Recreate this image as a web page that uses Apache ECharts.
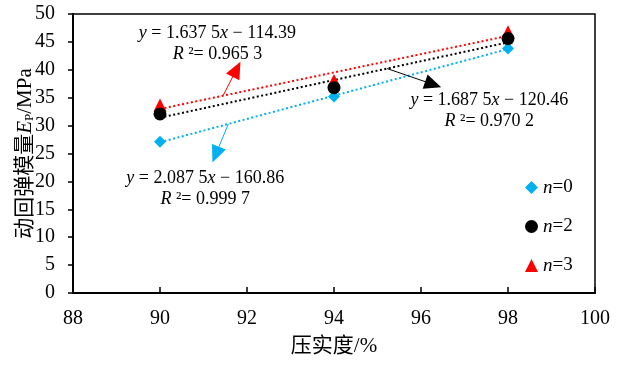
<!DOCTYPE html>
<html>
<head>
<meta charset="utf-8">
<script src="https://cdn.jsdelivr.net/npm/echarts@6/dist/echarts.min.js"></script>
<style>
  html, body { margin: 0; padding: 0; background: #fff; }
  #chart { width: 620px; height: 365px; }
</style>
</head>
<body>
<div id="chart"></div>
<script>
// Compaction degree (%) and resilient modulus (MPa) for each cycle count n
const compaction = [90, 94, 98];
const modulusN0 = [27.1, 35.2, 43.8];
const modulusN2 = [32.1, 36.8, 45.6];
const modulusN3 = [33.7, 38.1, 46.8];
const seriesNames = ['n=0', 'n=2', 'n=3'];

// Linear fits y = a·x + b as printed on the chart
const fitSlopes = [2.0875, 1.6875, 1.6375];
const fitIntercepts = [-160.86, -120.46, -114.39];
const fitSlopeText = ['2.087 5', '1.687 5', '1.637 5'];
const fitInterceptText = ['160.86', '120.46', '114.39'];
const fitR2Text = ['0.999 7', '0.970 2', '0.965 3'];

// Axis ranges
const xRange = [88, 100, 2];
const yRange = [0, 50, 5];

const SERIF = "'Liberation Serif', 'Times New Roman', 'Noto Sans CJK SC', serif";
const CJK = "'Liberation Serif', 'Noto Sans CJK SC', serif";
const colors = ['#00B0F0', '#000000', '#FF0000'];
const symbols = ['diamond', 'circle', 'triangle'];
const symbolSizes = [12, 13, 13];
const values = [modulusN0, modulusN2, modulusN3];

// Where each equation label and its leader arrow sit (data units)
const labelAt = [[91.04, 18.6], [97.57, 32.6], [91.32, 44.6]];
const arrowFromX = [91.57, 95.22, 91.45];
const arrowTo = [[91.28, 24.8], [96.28, 37.38], [91.76, 40.1]];

const fit = (i, x) => fitSlopes[i] * x + fitIntercepts[i];

const series = [];

// Dotted trend lines, with equation label and arrow
for (let i = 0; i < 3; i++) {
  const x0 = compaction[0], x1 = compaction[compaction.length - 1];
  series.push({
    name: 'fit' + i,
    type: 'line',
    data: [[x0, fit(i, x0)], [x1, fit(i, x1)]],
    showSymbol: false,
    symbol: 'none',
    silent: true,
    z: 1,
    lineStyle: { color: colors[i], width: 2, type: [2, 2.5] },
    markLine: {
      silent: true,
      symbol: ['none', 'triangle'],
      symbolSize: [15, 17],
      label: { show: false },
      lineStyle: { color: colors[i], width: 1, type: 'solid' },
      data: [[
        { coord: [arrowFromX[i], fit(i, arrowFromX[i])] },
        { coord: arrowTo[i] }
      ]]
    },
    markPoint: {
      silent: true,
      symbol: 'circle',
      symbolSize: 1,
      itemStyle: { color: 'rgba(0,0,0,0)' },
      label: {
        show: true,
        position: 'inside',
        color: '#000',
        fontFamily: SERIF,
        fontSize: 18,
        lineHeight: 21,
        align: 'center',
        formatter: '{i|y} = ' + fitSlopeText[i] + '{i|x} \u2212 ' + fitInterceptText[i] +
                   '\n{i|R} \u00b2= ' + fitR2Text[i],
        rich: {
          i: { fontStyle: 'italic', fontFamily: SERIF, fontSize: 18, lineHeight: 21, color: '#000' }
        }
      },
      data: [{ coord: labelAt[i] }]
    }
  });
}

// Measured points
for (let i = 0; i < 3; i++) {
  series.push({
    name: seriesNames[i],
    type: 'scatter',
    data: compaction.map((x, k) => [x, values[i][k]]),
    symbol: symbols[i],
    symbolSize: symbolSizes[i],
    itemStyle: { color: colors[i], opacity: 1 },
    z: i === 1 ? 5 : 4
  });
}

const chart = echarts.init(document.getElementById('chart'), null, { renderer: 'canvas' });
chart.setOption({
  animation: false,
  backgroundColor: '#fff',
  textStyle: { fontFamily: SERIF },
  grid: {
    left: 73, right: 25, top: 14, bottom: 72,
    outerBoundsMode: 'none',
    show: true, borderColor: '#000', borderWidth: 1.5, backgroundColor: 'transparent'
  },
  legend: {
    data: seriesNames,
    orient: 'vertical',
    left: 520,
    top: 173,
    itemGap: 20,
    itemWidth: 13,
    itemHeight: 13,
    textStyle: {
      fontFamily: SERIF, fontSize: 19, color: '#000',
      rich: { i: { fontFamily: SERIF, fontStyle: 'italic', fontSize: 19, color: '#000' } }
    },
    formatter: name => '{i|n}' + name.slice(1),
    selectedMode: false
  },
  xAxis: {
    type: 'value',
    min: xRange[0], max: xRange[1], interval: xRange[2],
    name: '压实度/%',
    nameLocation: 'middle',
    nameGap: 43,
    nameMoveOverlap: false,
    nameTextStyle: { fontFamily: CJK, fontSize: 21, color: '#000' },
    axisLine: { show: true, lineStyle: { color: '#000', width: 2 } },
    axisTick: { show: true, inside: true, length: 6, lineStyle: { color: '#000', width: 1.5 } },
    axisLabel: { color: '#000', fontFamily: SERIF, fontSize: 20, margin: 16 },
    splitLine: { show: false }
  },
  yAxis: {
    type: 'value',
    min: yRange[0], max: yRange[1], interval: yRange[2],
    name: '动回弹模量{e|E}{p|P}/MPa',
    nameLocation: 'middle',
    nameGap: 37,
    nameMoveOverlap: false,
    nameRotate: 90,
    nameTextStyle: {
      fontFamily: CJK, fontSize: 21, color: '#000',
      rich: {
        e: { fontFamily: SERIF, fontStyle: 'italic', fontSize: 21, color: '#000' },
        p: { fontFamily: SERIF, fontSize: 13, color: '#000', verticalAlign: 'bottom', padding: [8, 0, 0, 0] }
      }
    },
    axisLine: { show: true, lineStyle: { color: '#000', width: 2 } },
    axisTick: { show: true, inside: false, length: 5, lineStyle: { color: '#000', width: 1.5 } },
    axisLabel: { color: '#000', fontFamily: SERIF, fontSize: 20, margin: 18 },
    splitLine: { show: false }
  },
  series: series
});
</script>
</body>
</html>
